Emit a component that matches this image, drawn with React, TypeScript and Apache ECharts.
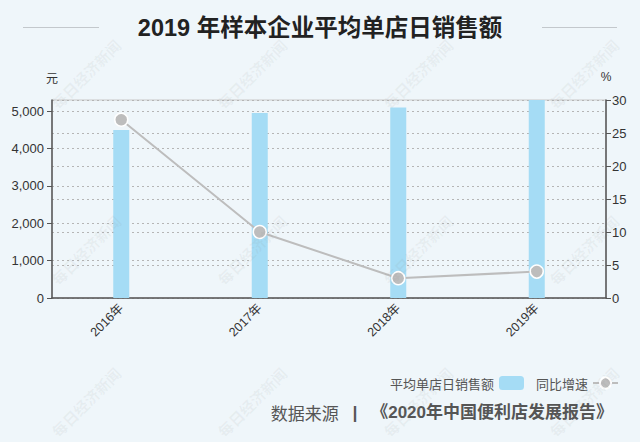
import React, { useEffect, useRef } from "react";
import * as echarts from "echarts";

const categories = ["2016年", "2017年", "2018年", "2019年"];
const salesValues = [4500, 4950, 5100, 5300];
const growthValues = [27, 10, 3, 4];
const salesName = "平均单店日销售额";
const growthName = "同比增速";
const titleText = "2019 年样本企业平均单店日销售额";
const watermarkText = "每日经济新闻";
const wmCols = [86, 252, 418, 584];
const wmRows = [74, 250, 402];

const LATIN = "'Liberation Sans', 'Noto Sans CJK SC', sans-serif";

export default function App() {
  const ref = useRef<HTMLDivElement>(null);
  useEffect(() => {
    document.body.style.margin = "0";
    if (!ref.current) return;
    const chart = echarts.init(ref.current, undefined, { renderer: "svg" });
    const watermarks: any[] = [];
    wmRows.forEach((y) =>
      wmCols.forEach((x) =>
        watermarks.push({
          type: "text",
          x,
          y,
          rotation: Math.PI / 4,
          silent: true,
          z: 100,
          style: {
            text: watermarkText,
            fill: "rgba(140,140,140,0.09)",
            font: "bold 15px 'Noto Sans CJK SC', serif",
            align: "center",
            verticalAlign: "middle",
          },
        })
      )
    );
    chart.setOption({
      animation: false,
      backgroundColor: "#eff6fa",
      textStyle: { fontFamily: LATIN },
      grid: {
        left: 52,
        right: 34,
        top: 100,
        bottom: 144,
        show: true,
        borderColor: "#c8c8c8",
        borderWidth: 1,
        backgroundColor: "transparent",
      },
      legend: {
        right: 16,
        top: 371,
        align: "right",
        itemWidth: 25,
        itemHeight: 14,
        itemGap: 12,
        textStyle: { color: "#555", fontSize: 13, fontFamily: "'Noto Sans CJK SC', sans-serif" },
        data: [
          { name: salesName, icon: "roundRect" },
          { name: growthName },
        ],
      },
      xAxis: {
        type: "category",
        data: categories,
        axisLine: { lineStyle: { color: "#555", width: 1.5 } },
        axisTick: { show: false },
        axisLabel: { rotate: 45, color: "#333", fontSize: 12.5, margin: 8 },
      },
      yAxis: [
        {
          type: "value",
          min: 0,
          max: 5300,
          interval: 1000,
          name: "元",
          nameLocation: "end",
          nameGap: 21,
          nameTextStyle: { color: "#333", fontSize: 12, align: "center", verticalAlign: "middle" },
          axisLine: { show: true, lineStyle: { color: "#555", width: 1.5 } },
          axisTick: { show: true, length: 5, lineStyle: { color: "#555" } },
          axisLabel: { color: "#333", fontSize: 13, margin: 8, showMaxLabel: false },
          splitLine: { show: true, lineStyle: { color: "#b5b5b5", type: [2, 3] } },
        },
        {
          type: "value",
          min: 0,
          max: 30,
          interval: 5,
          name: "%",
          nameLocation: "end",
          nameGap: 23,
          nameTextStyle: { color: "#333", fontSize: 12, align: "center", verticalAlign: "middle" },
          axisLine: { show: true, lineStyle: { color: "#555", width: 1.5 } },
          axisTick: { show: true, length: 5, lineStyle: { color: "#555" } },
          axisLabel: { color: "#333", fontSize: 13, margin: 6 },
          splitLine: { show: true, lineStyle: { color: "#b5b5b5", type: [2, 3] } },
        },
      ],
      series: [
        {
          name: salesName,
          type: "bar",
          data: salesValues,
          barWidth: 16,
          itemStyle: { color: "#a5dcf5" },
        },
        {
          name: growthName,
          type: "line",
          yAxisIndex: 1,
          data: growthValues,
          symbol: "circle",
          symbolSize: 13,
          itemStyle: { color: "#bdbdbd", borderColor: "#ffffff", borderWidth: 1.5 },
          lineStyle: { color: "#bdbdbd", width: 2 },
          z: 5,
        },
      ],
      graphic: [
        {
          type: "line",
          shape: { x1: 23, y1: 27.5, x2: 99, y2: 27.5 },
          style: { stroke: "#c3c8cc", lineWidth: 1 },
          silent: true,
        },
        {
          type: "line",
          shape: { x1: 542, y1: 27.5, x2: 617, y2: 27.5 },
          style: { stroke: "#c3c8cc", lineWidth: 1 },
          silent: true,
        },
        {
          type: "text",
          x: 320,
          y: 28,
          style: {
            text: titleText,
            fill: "#222",
            font: "bold 23.5px 'Liberation Sans', 'Noto Sans CJK SC', sans-serif",
            align: "center",
            verticalAlign: "middle",
          },
        },
        {
          type: "text",
          x: 613,
          y: 412,
          style: {
            text: "{a|数据来源}{b|  丨  }{c|《2020年中国便利店发展报告》}",
            align: "right",
            verticalAlign: "middle",
            rich: {
              a: { fontSize: 17, fill: "#555", fontFamily: "'Noto Sans CJK SC', sans-serif" },
              b: { fontSize: 17, fill: "#555", fontWeight: "bold", fontFamily: "'Noto Sans CJK SC', sans-serif" },
              c: { fontSize: 17, fill: "#555", fontWeight: "bold", fontFamily: "'Liberation Sans', 'Noto Sans CJK SC', sans-serif" },
            },
          },
        },
        ...watermarks,
      ],
    });
    return () => chart.dispose();
  }, []);
  return <div ref={ref} style={{ width: 640, height: 442 }} />;
}
